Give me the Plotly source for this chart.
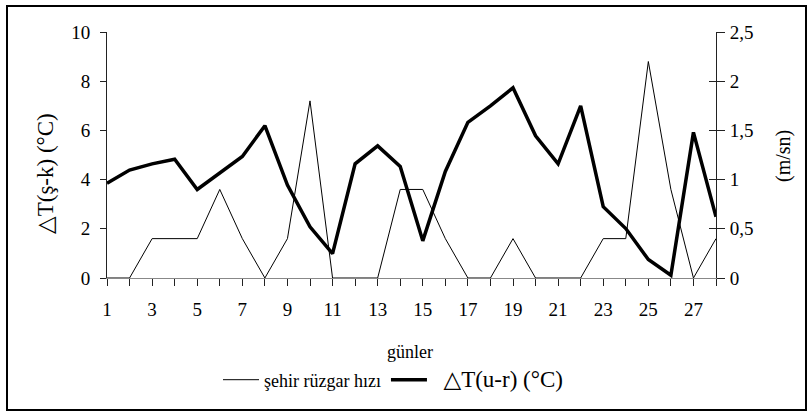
import plotly.graph_objects as go

days = list(range(1, 29))
tick_labels = [str(d) if d % 2 == 1 else "" for d in days]

# △T(u-r) (°C) – left axis (thick line)
delta_t = [3.85, 4.39, 4.64, 4.83, 3.6, 4.26, 4.94, 6.19, 3.78, 2.08,
           0.99, 4.64, 5.37, 4.53, 1.51, 4.33, 6.33, 7.0, 7.73, 5.78,
           4.64, 7.0, 2.9, 2.01, 0.75, 0.11, 5.92, 2.49]

# şehir rüzgar hızı (m/sn) – right axis (thin line)
wind = [0, 0, 0.4, 0.4, 0.4, 0.9, 0.4, 0, 0.4, 1.8,
        0, 0, 0, 0.9, 0.9, 0.4, 0, 0, 0.4, 0,
        0, 0, 0.4, 0.4, 2.2, 0.9, 0, 0.4]

FONT = "Times New Roman, Liberation Serif, Tinos, DejaVu Serif, serif"
L, R, T, B = 107, 94, 32, 136
W, H = 810, 414
PW, PH = W - L - R, H - T - B

def px(x):
    return (x - L) / PW

def py(y):
    return (H - B - y) / PH

fig = go.Figure()
fig.add_trace(go.Scatter(x=days, y=wind, mode="lines", name="şehir rüzgar hızı",
                         line=dict(color="black", width=1), yaxis="y2"))
fig.add_trace(go.Scatter(x=days, y=delta_t, mode="lines",
                         name="<span style='font-size:23px'>\u00a0\u00a0△T(u-r) (°C)</span>",
                         line=dict(color="black", width=3.5), yaxis="y"))
fig.add_trace(go.Scatter(x=[None], y=[None], yaxis="y3", showlegend=False,
                         hoverinfo="skip"))

fig.update_layout(
    width=W, height=H,
    margin=dict(l=L, r=R, t=T, b=B),
    paper_bgcolor="white", plot_bgcolor="white",
    separators=",.",
    font=dict(family=FONT, size=19, color="black"),
    showlegend=True,
    legend=dict(orientation="h", x=px(218), y=py(380), xanchor="left",
                yanchor="middle", font=dict(size=18, family=FONT),
                bgcolor="rgba(0,0,0,0)", itemwidth=36, tracegroupgap=0),
    xaxis=dict(range=[1, 28], tickvals=days, ticktext=tick_labels,
               ticks="outside", ticklen=7, tickcolor="#222", tickwidth=1,
               showline=True, linecolor="#888", linewidth=1,
               showgrid=False, zeroline=False, layer="below traces",
               ticklabelstandoff=7, tickfont=dict(size=19, family=FONT)),
    yaxis=dict(range=[0, 10], dtick=2, ticks="outside", ticklen=6,
               tickcolor="#222", showline=True, linecolor="#222",
               linewidth=1, showgrid=False, zeroline=False,
               ticklabelstandoff=6, tickfont=dict(size=19, family=FONT)),
    yaxis2=dict(range=[0, 2.5], dtick=0.5, overlaying="y", side="right",
                anchor="x", ticks="outside", ticklen=8, tickcolor="#222",
                showline=True, linecolor="#222", linewidth=1,
                showgrid=False, zeroline=False, ticklabelstandoff=1,
                tickfont=dict(size=19, family=FONT)),
    yaxis3=dict(range=[0, 2.5], dtick=0.5, overlaying="y", side="right",
                anchor="x", ticks="inside", ticklen=7, tickcolor="#222",
                showline=False, showgrid=False, zeroline=False,
                showticklabels=False),
    annotations=[
        dict(text="△T(ş-k) (°C)", x=px(46), y=py(174), xref="paper",
             yref="paper", showarrow=False, textangle=-90,
             font=dict(size=23, family=FONT), xanchor="center",
             yanchor="middle"),
        dict(text="(m/sn)", x=px(783), y=py(156), xref="paper",
             yref="paper", showarrow=False, textangle=-90,
             font=dict(size=20, family=FONT), xanchor="center",
             yanchor="middle"),
        dict(text="günler", x=px(410), y=py(352), xref="paper",
             yref="paper", showarrow=False,
             font=dict(size=18, family=FONT), xanchor="center",
             yanchor="middle"),
    ],
    shapes=[dict(type="rect", xref="paper", yref="paper",
                 x0=px(7), x1=px(806), y0=py(410), y1=py(6),
                 line=dict(color="black", width=2), fillcolor="rgba(0,0,0,0)")],
)

fig.write_html("out.html", config={"displayModeBar": False},
               post_script="document.body.style.margin='0px';")
